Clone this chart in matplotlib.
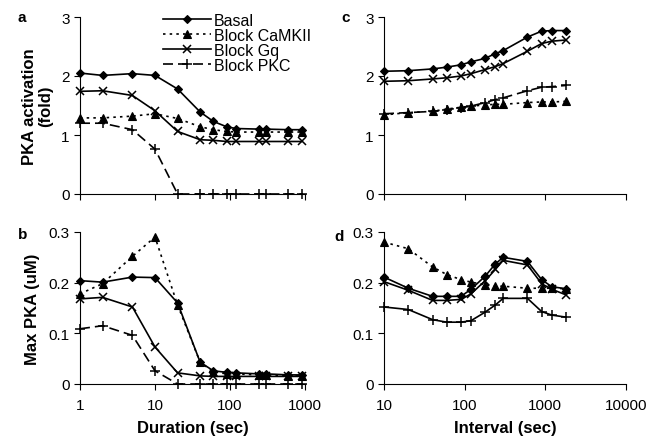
import matplotlib
matplotlib.use("Agg")
import matplotlib.pyplot as plt

plt.rcParams["font.family"] = ["Liberation Sans", "DejaVu Sans"]
plt.rcParams["font.size"] = 10

# duration sweep (panels a, b)
dur = [1, 2, 5, 10, 20, 40, 60, 90, 120, 240, 300, 600, 900]
a_basal = [2.05, 2.01, 2.04, 2.01, 1.78, 1.39, 1.23, 1.14, 1.11, 1.10, 1.10, 1.09, 1.09]
a_camk = [1.29, 1.29, 1.32, 1.36, 1.28, 1.14, 1.09, 1.06, 1.05, 1.05, 1.05, 1.05, 1.05]
a_gq = [1.74, 1.75, 1.67, 1.41, 1.06, 0.92, 0.91, 0.89, 0.89, 0.89, 0.89, 0.89, 0.89]
a_pkc = [1.20, 1.20, 1.09, 0.76, 0, 0, 0, 0, 0, 0, 0, 0, 0]

b_basal = [0.204, 0.201, 0.211, 0.210, 0.160, 0.043, 0.026, 0.023, 0.022, 0.020, 0.020, 0.018, 0.018]
b_camk = [0.178, 0.198, 0.252, 0.290, 0.156, 0.043, 0.024, 0.020, 0.020, 0.018, 0.018, 0.016, 0.016]
b_gq = [0.168, 0.171, 0.152, 0.073, 0.022, 0.016, 0.015, 0.015, 0.015, 0.015, 0.015, 0.015, 0.015]
b_pkc = [0.109, 0.115, 0.096, 0.026, 0, 0, 0, 0, 0, 0, 0, 0, 0]

# interval sweep (panels c, d)
intv = [10, 20, 40, 60, 90, 120, 180, 240, 300, 600, 900, 1200, 1800]
c_basal = [2.08, 2.09, 2.12, 2.15, 2.19, 2.24, 2.30, 2.38, 2.43, 2.66, 2.76, 2.77, 2.77]
c_camk = [1.34, 1.38, 1.40, 1.44, 1.47, 1.49, 1.51, 1.52, 1.52, 1.55, 1.56, 1.56, 1.57]
c_gq = [1.91, 1.92, 1.95, 1.97, 2.00, 2.04, 2.11, 2.16, 2.21, 2.42, 2.55, 2.59, 2.61]
c_pkc = [1.36, 1.38, 1.40, 1.43, 1.46, 1.49, 1.55, 1.60, 1.63, 1.75, 1.81, 1.82, 1.84]

d_basal = [0.211, 0.189, 0.173, 0.173, 0.173, 0.187, 0.213, 0.237, 0.250, 0.242, 0.206, 0.192, 0.188]
d_camk = [0.280, 0.267, 0.231, 0.216, 0.206, 0.201, 0.196, 0.193, 0.193, 0.189, 0.189, 0.189, 0.188]
d_gq = [0.202, 0.185, 0.165, 0.165, 0.167, 0.178, 0.204, 0.226, 0.244, 0.235, 0.198, 0.187, 0.176]
d_pkc = [0.152, 0.147, 0.127, 0.122, 0.122, 0.125, 0.142, 0.156, 0.169, 0.169, 0.143, 0.136, 0.132]

labels = ["Basal", "Block CaMKII", "Block Gq", "Block PKC"]
styles = [dict(ls="-", marker="D", ms=4.5, mew=0.8),
          dict(ls=(0, (1.5, 2.5)), marker="^", ms=6, mew=0.8),
          dict(ls="-", marker="x", ms=6, mew=1.1),
          dict(ls=(0, (6, 3)), marker="+", ms=7, mew=1.1)]

W, H = 650, 439
fig = plt.figure(figsize=(W / 100, H / 100), dpi=100)


def box(l, r, t, b):
    return [l / W, 1 - b / H, (r - l) / W, (b - t) / H]


axa = fig.add_axes(box(80, 305, 18, 195))
axb = fig.add_axes(box(80, 305, 233, 385))
axc = fig.add_axes(box(384, 626, 18, 195))
axd = fig.add_axes(box(384, 626, 233, 385))

panels = [(axa, dur, [a_basal, a_camk, a_gq, a_pkc]),
          (axb, dur, [b_basal, b_camk, b_gq, b_pkc]),
          (axc, intv, [c_basal, c_camk, c_gq, c_pkc]),
          (axd, intv, [d_basal, d_camk, d_gq, d_pkc])]

for ax, xs, series in panels:
    for i, (ys, lab) in enumerate(zip(series, labels)):
        st = dict(styles[i])
        if ax is axd and i == 3:
            st["ls"] = "-"  # PKC drawn solid in panel d
        ax.plot(xs, ys, color="black", lw=1.2, label=lab, clip_on=False, **st)
    ax.set_xscale("log")
    ax.spines["top"].set_visible(False)
    ax.spines["right"].set_visible(False)
    ax.minorticks_off()
    ax.tick_params(direction="out", length=4, width=0.8, labelsize=11)
    ax.tick_params(axis="x", pad=6)

for ax in (axa, axb):
    ax.set_xlim(1, 1000)
    ax.set_xticks([1, 10, 100, 1000])
for ax in (axc, axd):
    ax.set_xlim(10, 10000)
    ax.set_xticks([10, 100, 1000, 10000])
for ax in (axa, axc):
    ax.set_ylim(0, 3)
    ax.set_yticks([0, 1, 2, 3])
    ax.set_xticklabels([])
for ax in (axb, axd):
    ax.set_ylim(0, 0.3)
    ax.set_yticks([0, 0.1, 0.2, 0.3])
    ax.set_yticklabels(["0", "0.1", "0.2", "0.3"])
axb.set_xticklabels(["1", "10", "100", "1000"])
axd.set_xticklabels(["10", "100", "1000", "10000"])

axb.set_xlabel("Duration (sec)", fontweight="bold", fontsize=12, labelpad=6)
axd.set_xlabel("Interval (sec)", fontweight="bold", fontsize=12, labelpad=6)
axa.set_ylabel("PKA activation\n(fold)", fontweight="bold", fontsize=12,
               labelpad=6, linespacing=1.1)
axb.set_ylabel("Max PKA (uM)", fontweight="bold", fontsize=12, labelpad=6)

for txt, x, y in [("a", 18, 18), ("b", 18, 235), ("c", 341, 18), ("d", 334, 237)]:
    fig.text(x / W, 1 - y / H, txt, fontweight="bold", fontsize=11,
             ha="left", va="center")

h, l = axa.get_legend_handles_labels()
fig.legend(h, l, loc="upper left", bbox_to_anchor=(155 / W, 1 - 6 / H),
           frameon=False, handlelength=3.0, handletextpad=0.2,
           labelspacing=0.0, borderpad=0, fontsize=11.5)

fig.savefig("out.png", dpi=100)
